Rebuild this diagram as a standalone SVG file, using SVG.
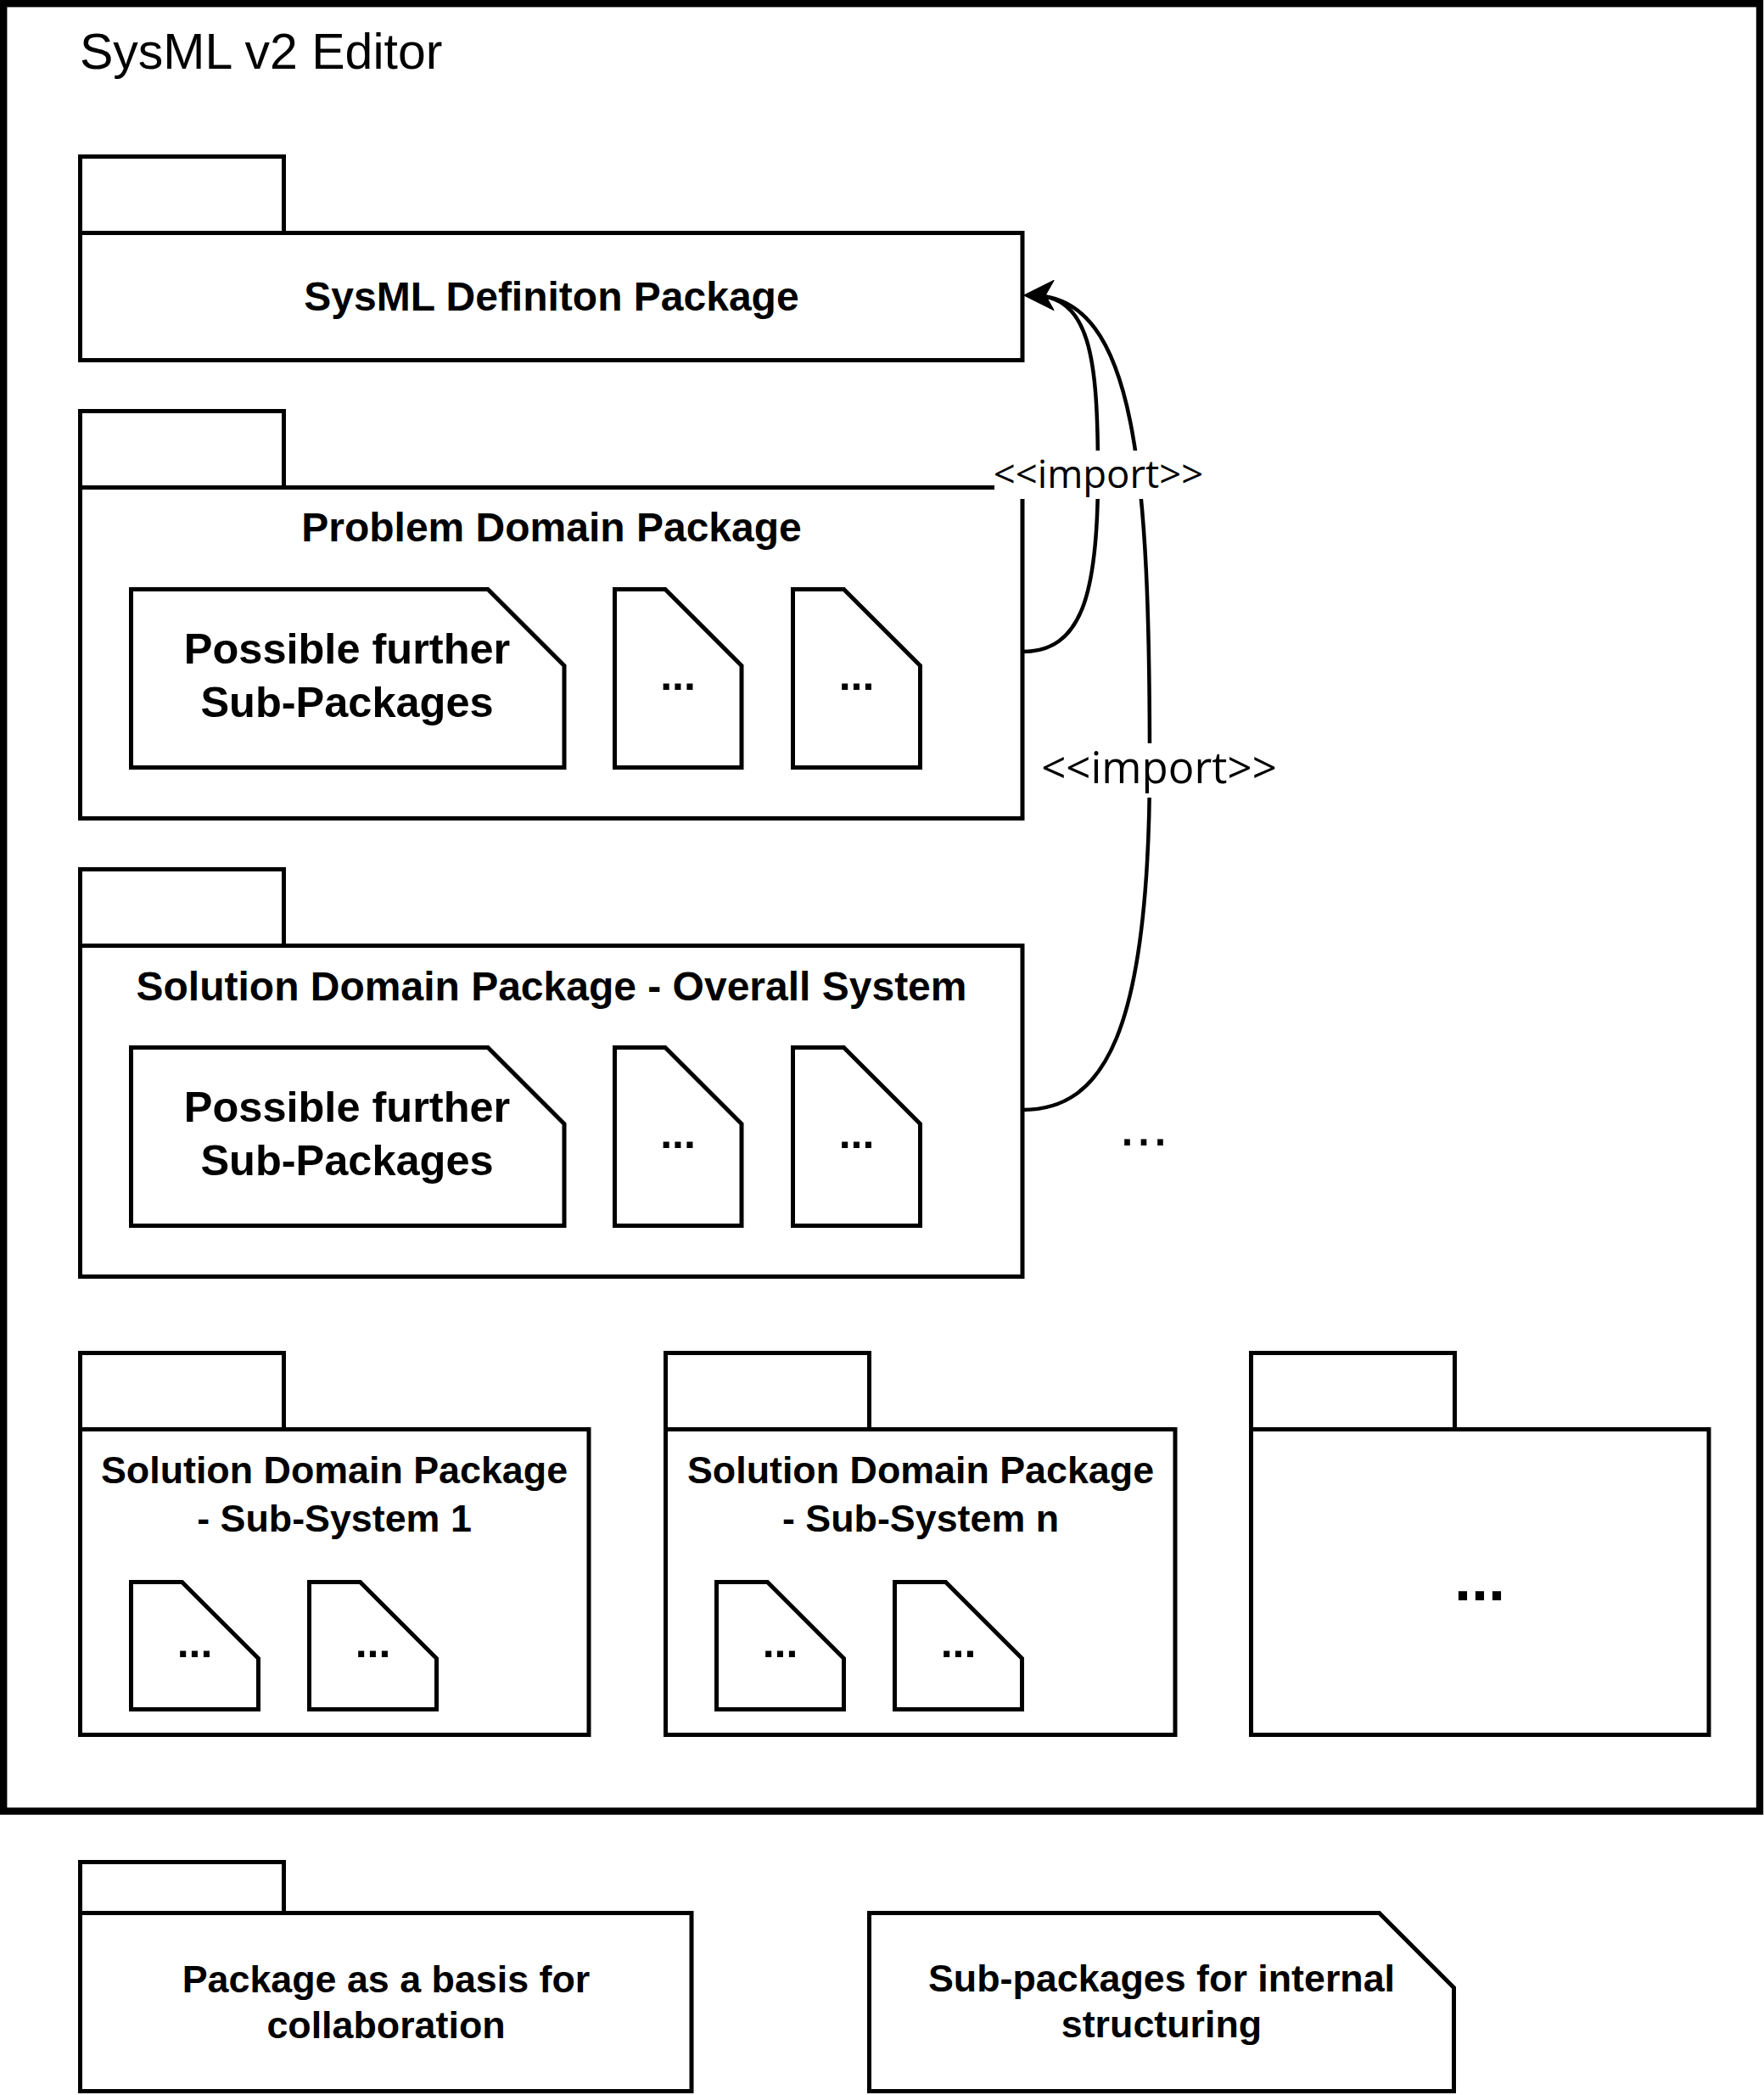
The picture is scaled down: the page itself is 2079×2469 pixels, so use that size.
<svg xmlns="http://www.w3.org/2000/svg" width="2079" height="2469" viewBox="0 0 2079 2469">
<style>
.pk{fill:#fff;stroke:#000;stroke-width:5;stroke-linejoin:miter}
.frame{fill:#fff;stroke:#000;stroke-width:8.4}
.t{font-family:"Liberation Sans",Arial,Helvetica,sans-serif;fill:#000}
.b{font-weight:bold}
.c{text-anchor:middle}
.edge{fill:none;stroke:#000;stroke-width:4.5}
.lbl{font-family:"Open Sans","Liberation Sans",sans-serif;fill:#000;text-anchor:middle}
.lblbg{fill:#fff;stroke:none}
</style>
<defs>
<marker id="arr" markerUnits="userSpaceOnUse" viewBox="0 0 40 40" markerWidth="40" markerHeight="40" refX="29" refY="20" orient="auto">
<path d="M38,20 L3,2.5 L13,20 L3,37.5 Z" fill="#000" stroke="#000" stroke-width="1"/>
</marker>
</defs>
<rect width="2079" height="2469" fill="#fff"/>

<g id="editor-frame">
<rect class="frame" x="4.2" y="4.2" width="2069.8" height="2130.3"/>
<text class="t" x="94" y="81" font-size="59">SysML v2 Editor</text>
</g>

<g id="pkg-definition">
<rect class="pk" x="94.5" y="184.5" width="240" height="90"/>
<rect class="pk" x="94.5" y="274.5" width="1110.5" height="150"/>
<text class="t b c" x="650" y="366" font-size="48">SysML Definiton Package</text>
</g>

<g id="pkg-problem">
<rect class="pk" x="94.5" y="484.5" width="240" height="90"/>
<rect class="pk" x="94.5" y="574.5" width="1110.5" height="390"/>
<text class="t b c" x="650" y="638" font-size="48">Problem Domain Package</text>
<g id="problem-sub1">
<path class="pk" d="M154.5,694.5 H575 L665,784.5 V904.5 H154.5 Z"/>
<text class="t b c" x="409" y="782" font-size="50.5">Possible further</text>
<text class="t b c" x="409" y="845" font-size="50.5">Sub-Packages</text>
</g>
<g id="problem-sub2">
<path class="pk" d="M724.5,694.5 H784 L874,784.5 V904.5 H724.5 Z"/>
<text class="t b c" x="799" y="813" font-size="50">...</text>
</g>
<g id="problem-sub3">
<path class="pk" d="M934.5,694.5 H994.5 L1084.5,784.5 V904.5 H934.5 Z"/>
<text class="t b c" x="1009.5" y="813" font-size="50">...</text>
</g>
</g>

<g id="pkg-solution">
<rect class="pk" x="94.5" y="1024.5" width="240" height="90"/>
<rect class="pk" x="94.5" y="1114.5" width="1110.5" height="390"/>
<text class="t b c" x="650" y="1179" font-size="48">Solution Domain Package - Overall System</text>
<g id="solution-sub1">
<path class="pk" d="M154.5,1234.5 H575 L665,1324.5 V1444.5 H154.5 Z"/>
<text class="t b c" x="409" y="1322" font-size="50.5">Possible further</text>
<text class="t b c" x="409" y="1385" font-size="50.5">Sub-Packages</text>
</g>
<g id="solution-sub2">
<path class="pk" d="M724.5,1234.5 H784 L874,1324.5 V1444.5 H724.5 Z"/>
<text class="t b c" x="799" y="1353" font-size="50">...</text>
</g>
<g id="solution-sub3">
<path class="pk" d="M934.5,1234.5 H994.5 L1084.5,1324.5 V1444.5 H934.5 Z"/>
<text class="t b c" x="1009.5" y="1353" font-size="50">...</text>
</g>
</g>

<g id="pkg-subsystem-1">
<rect class="pk" x="94.5" y="1594.5" width="240" height="90"/>
<rect class="pk" x="94.5" y="1684.5" width="599.5" height="360"/>
<text class="t b c" x="394" y="1748" font-size="44.8">Solution Domain Package</text>
<text class="t b c" x="394" y="1805" font-size="44.8">- Sub-System 1</text>
<path class="pk" d="M154.5,1864.5 H214.5 L304.5,1954.5 V2014.5 H154.5 Z"/>
<text class="t b c" x="229.5" y="1953" font-size="50">...</text>
<path class="pk" d="M364.5,1864.5 H424.5 L514.5,1954.5 V2014.5 H364.5 Z"/>
<text class="t b c" x="439.5" y="1953" font-size="50">...</text>
</g>

<g id="pkg-subsystem-n">
<rect class="pk" x="784.5" y="1594.5" width="240" height="90"/>
<rect class="pk" x="784.5" y="1684.5" width="600.5" height="360"/>
<text class="t b c" x="1085" y="1748" font-size="44.8">Solution Domain Package</text>
<text class="t b c" x="1085" y="1805" font-size="44.8">- Sub-System n</text>
<path class="pk" d="M844.5,1864.5 H904.5 L994.5,1954.5 V2014.5 H844.5 Z"/>
<text class="t b c" x="919.5" y="1953" font-size="50">...</text>
<path class="pk" d="M1054.5,1864.5 H1114.5 L1204.5,1954.5 V2014.5 H1054.5 Z"/>
<text class="t b c" x="1129.5" y="1953" font-size="50">...</text>
</g>

<g id="pkg-more">
<rect class="pk" x="1474.5" y="1594.5" width="240" height="90"/>
<rect class="pk" x="1474.5" y="1684.5" width="539.5" height="360"/>
<text class="t b c" x="1744" y="1886" font-size="72">...</text>
</g>

<g id="more-ellipsis">
<text class="t c" x="1348" y="1350" font-size="70">...</text>
</g>

<g id="legend-package">
<rect class="pk" x="94.5" y="2194.5" width="240" height="60"/>
<rect class="pk" x="94.5" y="2254.5" width="720.5" height="210"/>
<text class="t b c" x="455" y="2348" font-size="44.8">Package as a basis for</text>
<text class="t b c" x="455" y="2402" font-size="44.8">collaboration</text>
</g>

<g id="legend-subpackage">
<path class="pk" d="M1024.5,2254.5 H1625.5 L1713.5,2342.5 V2464.5 H1024.5 Z"/>
<text class="t b c" x="1369" y="2347" font-size="44.8">Sub-packages for internal</text>
<text class="t b c" x="1369" y="2401" font-size="44.8">structuring</text>
</g>

<g id="connectors">
<path class="edge" d="M1205,768 C1275,768 1294,700 1294,560 C1294,420 1285,348 1216,348" marker-end="url(#arr)"/>
<path class="edge" d="M1205,1308 C1300,1308 1355,1220 1355,900 C1355,560 1340,348 1216,348" marker-end="url(#arr)"/>
<rect class="lblbg" x="1172" y="531" width="246" height="57"/>
<text class="lbl" x="1294.5" y="575" font-size="45.5">&lt;&lt;import&gt;&gt;</text>
<rect class="lblbg" x="1228" y="876" width="276" height="64"/>
<text class="lbl" x="1366" y="923" font-size="51">&lt;&lt;import&gt;&gt;</text>
</g>
</svg>
